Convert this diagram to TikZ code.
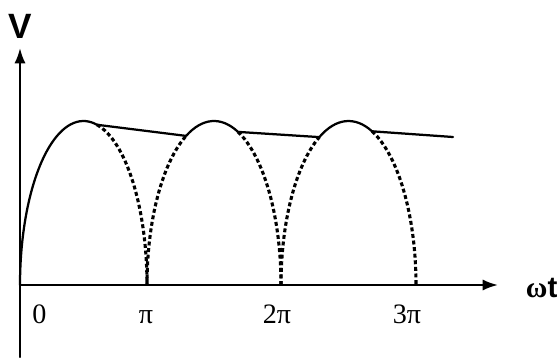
\documentclass[tikz,border=0pt]{standalone}
\usepackage{fontspec}
\setmainfont{Liberation Serif}
\setsansfont{Liberation Sans}
\usetikzlibrary{arrows.meta}

\begin{document}
\begin{tikzpicture}[x=0.025cm,y=0.025cm,>={Latex[length=11pt,width=8pt]},line cap=round,
  axis/.style={line width=1.6pt,->},
  wave/.style={line width=1.6pt},
  ripple/.style={line width=2.2pt,line cap=butt,dash pattern=on 2.8pt off 1.9pt},
  tick/.style={font=\fontsize{20}{22}\selectfont,anchor=base}]
\useasboundingbox (-20,-72) rectangle (538,285);
\draw[axis] (0,-72) -- (0,237);
\draw[axis] (0,0) -- (478,0);
\node[font=\sffamily\bfseries\fontsize{25}{26}\selectfont] (vlab) at (0,259) {V};
\node[anchor=base west,font=\fontsize{21}{22}\selectfont] (wtlab) at (501,-12) {\textbf{ω}\textsf{\textbf{t}}};
\node[tick] (zero) at (19.5,-38) {0};
\node[tick] (pi1) at (126,-38) {π};
\node[tick] (pi2) at (257,-38) {2π};
\node[tick] (pi3) at (387,-38) {3π};
\draw[wave] (0,0) arc[start angle=180,end angle=77.7,x radius=63.5,y radius=164] coordinate (a1);
\draw[ripple] (a1) arc[start angle=77.7,end angle=0,x radius=63.5,y radius=164];
\draw[ripple] (127,0) arc[start angle=180,end angle=114.6,x radius=67,y radius=164] coordinate (b1);
\draw[wave] (b1) arc[start angle=114.6,end angle=69,x radius=67,y radius=164] coordinate (b2);
\draw[ripple] (b2) arc[start angle=69,end angle=0,x radius=67,y radius=164];
\draw[ripple] (261,0) arc[start angle=180,end angle=115.6,x radius=67.5,y radius=164] coordinate (c1);
\draw[wave] (c1) arc[start angle=115.6,end angle=69.6,x radius=67.5,y radius=164] coordinate (c2);
\draw[ripple] (c2) arc[start angle=69.6,end angle=0,x radius=67.5,y radius=164];
\coordinate (cend) at (433,148);
\draw[wave] (a1) -- (b1);
\draw[wave] (b2) -- (c1);
\draw[wave] (c2) -- (cend);
\end{tikzpicture}
\end{document}
